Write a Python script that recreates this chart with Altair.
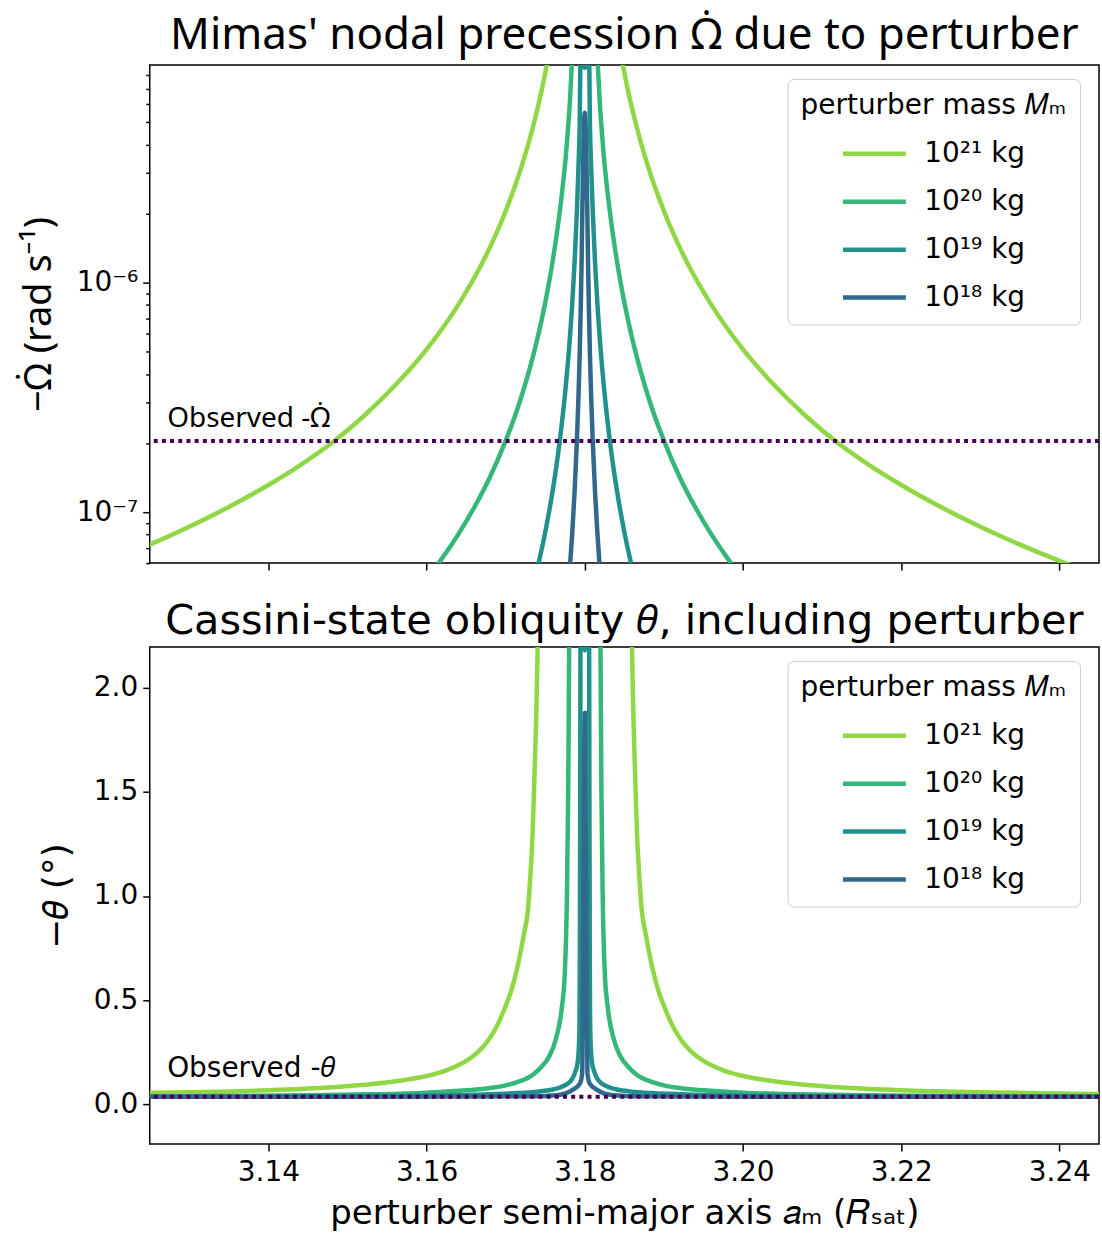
import altair as alt
import pandas as pd

SERIES = ["10²¹ kg", "10²⁰ kg", "10¹⁹ kg", "10¹⁸ kg"]
COLORS = ["#8fd744", "#35b779", "#21918c", "#31688e"]
X_TICKS = [3.14, 3.16, 3.18, 3.20, 3.22, 3.24]

# ---------------- top panel: -Omega_dot (rad/s) ----------------
TOP_X_21 = [3.120, 3.125, 3.130, 3.135, 3.140, 3.144, 3.148, 3.152, 3.156, 3.160, 3.164, 3.167, 3.170,
            3.172, 3.1735, 3.1745, 3.1752, 3.176, 3.177, 3.180, 3.183, 3.184, 3.1848, 3.1855, 3.1865,
            3.188, 3.190, 3.193, 3.196, 3.200, 3.204, 3.208, 3.212, 3.216, 3.220, 3.225, 3.230, 3.235,
            3.240, 3.245, 3.250]
TOP_Y_21 = [6.14e-8, 7.22e-8, 8.64e-8, 1.054e-7, 1.314e-7, 1.60e-7, 2.0e-7, 2.61e-7, 3.56e-7, 5.12e-7,
            8.0e-7, 1.21e-6, 2.05e-6, 3.2e-6, 4.85e-6, 6.77e-6, 8.9e-6, 1.28e-5, 2.28e-5, 1e-3,
            2.28e-5, 1.28e-5, 8.9e-6, 6.77e-6, 4.85e-6, 3.2e-6, 2.05e-6, 1.21e-6, 8.0e-7, 5.12e-7,
            3.56e-7, 2.61e-7, 2.0e-7, 1.60e-7, 1.314e-7, 1.054e-7, 8.64e-8, 7.22e-8, 6.14e-8, 5.28e-8,
            4.59e-8]

TOP_X_20 = [3.155, 3.160, 3.162, 3.164, 3.166, 3.168, 3.170, 3.1715, 3.173, 3.174, 3.175, 3.176, 3.1767,
            3.1772, 3.1776, 3.1779, 3.1781, 3.17825, 3.1785, 3.180, 3.1815, 3.18175, 3.1819, 3.1821,
            3.1824, 3.1828, 3.1833, 3.184, 3.185, 3.186, 3.187, 3.1885, 3.190, 3.192, 3.194, 3.196,
            3.198, 3.200, 3.205]
TOP_Y_20 = [3.28e-8, 5.12e-8, 6.32e-8, 8.0e-8, 1.045e-7, 1.42e-7, 2.05e-7, 2.83e-7, 4.18e-7, 5.69e-7,
            8.19e-7, 1.28e-6, 1.88e-6, 2.61e-6, 3.56e-6, 4.8e-6, 6.0e-6, 7.6e-6, 1.1e-5, 1e-3,
            1.1e-5, 7.6e-6, 6.0e-6, 4.8e-6, 3.56e-6, 2.61e-6, 1.88e-6, 1.28e-6, 8.19e-7, 5.69e-7,
            4.18e-7, 2.83e-7, 2.05e-7, 1.42e-7, 1.045e-7, 8.0e-8, 6.32e-8, 5.12e-8, 3.28e-8]

TOP_X_19 = [3.1725, 3.174, 3.175, 3.1758, 3.1764, 3.177, 3.1775, 3.178, 3.1784, 3.1787, 3.179, 3.1792,
            3.17935, 3.17945, 3.180, 3.18055, 3.18065, 3.1808, 3.181, 3.1813, 3.1816, 3.182, 3.1825,
            3.183, 3.1836, 3.1842, 3.185, 3.186, 3.1875]
TOP_Y_19 = [3.64e-8, 5.69e-8, 8.19e-8, 1.161e-7, 1.58e-7, 2.28e-7, 3.28e-7, 5.12e-7, 8.0e-7, 1.21e-6,
            2.05e-6, 3.2e-6, 4.85e-6, 9.0e-6, 8.6e-6, 9.0e-6, 4.85e-6, 3.2e-6, 2.05e-6, 1.21e-6,
            8.0e-7, 5.12e-7, 3.28e-7, 2.28e-7, 1.58e-7, 1.161e-7, 8.19e-8, 5.69e-8, 3.64e-8]

TOP_X_18 = [3.1776, 3.1781, 3.1784, 3.1787, 3.179, 3.1792, 3.17935, 3.1795, 3.1796, 3.17967, 3.180,
            3.18033, 3.1804, 3.1805, 3.18065, 3.1808, 3.181, 3.1813, 3.1816, 3.1819, 3.1824]
TOP_Y_18 = [3.56e-8, 5.67e-8, 8.0e-8, 1.21e-7, 2.05e-7, 3.2e-7, 4.85e-7, 8.19e-7, 1.28e-6, 1.88e-6,
            5.5e-6, 1.88e-6, 1.28e-6, 8.19e-7, 4.85e-7, 3.2e-7, 2.05e-7, 1.21e-7, 8.0e-8, 5.67e-8,
            3.56e-8]

TOP_OBS = [2.04e-7]
TOP_Y_DOMAIN = [6.0e-8, 8.87e-6]
TOP_Y_TICKS = [6e-8, 7e-8, 8e-8, 9e-8, 1e-7, 2e-7, 3e-7, 4e-7, 5e-7, 6e-7, 7e-7, 8e-7, 9e-7,
               1e-6, 2e-6, 3e-6, 4e-6, 5e-6, 6e-6, 7e-6, 8e-6]
TOP_NOTE = ["Observed -Ω\u0307"]
TOP_NOTE_X = [3.1272]
TOP_NOTE_Y = [2.34e-7]

# ---------------- bottom panel: -theta (deg) ----------------
BOT_X_21 = [3.110, 3.115, 3.120, 3.125, 3.132, 3.140, 3.147, 3.154, 3.157, 3.160, 3.1625, 3.1649, 3.1665,
            3.1676, 3.1688, 3.1699, 3.1707, 3.1714, 3.17232, 3.1728, 3.17312, 3.1734, 3.17362, 3.17385,
            3.17404, 3.1745, 3.180,
            3.1855, 3.18596, 3.18615, 3.18638, 3.1866, 3.18688, 3.1872, 3.18768, 3.1886, 3.1893, 3.1901,
            3.1912, 3.1924, 3.1935, 3.1951, 3.1975, 3.200, 3.203, 3.206, 3.213, 3.220, 3.228, 3.235,
            3.240, 3.245, 3.250]
BOT_Y_21 = [0.048, 0.049, 0.051, 0.054, 0.058, 0.066, 0.078, 0.100, 0.115, 0.135, 0.1625, 0.205, 0.251,
            0.297, 0.368, 0.463, 0.545, 0.645, 0.82, 0.93, 1.10, 1.30, 1.56, 1.85, 2.197, 3.0, 10.0,
            3.0, 2.197, 1.85, 1.56, 1.30, 1.10, 0.93, 0.82, 0.645, 0.545, 0.463, 0.368, 0.297, 0.251,
            0.205, 0.1625, 0.135, 0.115, 0.100, 0.078, 0.066, 0.058, 0.054, 0.051, 0.049, 0.048]

BOT_X_20 = [3.108, 3.115, 3.125, 3.135, 3.145, 3.153, 3.160, 3.165, 3.1675, 3.170, 3.1718, 3.1734, 3.1745,
            3.1755, 3.1763, 3.1771, 3.17747, 3.17774, 3.1779, 3.17802, 3.1782, 3.180, 3.1818, 3.18198,
            3.1821, 3.18226, 3.18253, 3.1829, 3.1837, 3.1845, 3.1855, 3.1866, 3.1882, 3.190, 3.1925,
            3.195, 3.200, 3.207, 3.215, 3.225, 3.235, 3.245, 3.252]
BOT_Y_20 = [0.036, 0.036, 0.037, 0.039, 0.042, 0.047, 0.055, 0.066, 0.075, 0.090, 0.110, 0.140, 0.178,
            0.230, 0.307, 0.465, 0.628, 1.0, 1.5, 2.197, 3.0, 10.0, 3.0, 2.197, 1.5, 1.0, 0.628, 0.465,
            0.307, 0.230, 0.178, 0.140, 0.110, 0.090, 0.075, 0.066, 0.055, 0.047, 0.042, 0.039, 0.037,
            0.036, 0.036]

BOT_X_19 = [3.110, 3.130, 3.145, 3.158, 3.166, 3.1715, 3.1752, 3.177, 3.1782, 3.17874, 3.1791, 3.17928,
            3.17934, 3.17938, 3.17942, 3.17948, 3.180, 3.18052, 3.18058, 3.18062, 3.18066, 3.18072,
            3.1809, 3.18126, 3.1818, 3.183, 3.1848, 3.1885, 3.194, 3.202, 3.215, 3.230, 3.250]
BOT_Y_19 = [0.035, 0.036, 0.037, 0.040, 0.045, 0.053, 0.065, 0.082, 0.110, 0.149, 0.200, 0.307, 0.450,
            0.800, 1.500, 2.600, 2.180, 2.600, 1.500, 0.800, 0.450, 0.307, 0.200, 0.149, 0.110, 0.082,
            0.065, 0.053, 0.045, 0.040, 0.037, 0.036, 0.035]

BOT_X_18 = [3.110, 3.150, 3.165, 3.173, 3.1765, 3.1784, 3.1794, 3.17967, 3.180, 3.18033, 3.1806, 3.1816,
            3.1835, 3.187, 3.195, 3.210, 3.250]
BOT_Y_18 = [0.035, 0.035, 0.036, 0.038, 0.043, 0.067, 0.100, 0.150, 1.880, 0.150, 0.100, 0.067, 0.043,
            0.038, 0.036, 0.035, 0.035]

BOT_OBS = [0.035]
BOT_Y_DOMAIN = [-0.192, 2.197]
BOT_Y_TICKS = [0.0, 0.5, 1.0, 1.5, 2.0]
BOT_NOTE = ["Observed -𝜃"]
BOT_NOTE_X = [3.1272]
BOT_NOTE_Y = [0.128]

X_DOMAIN = [3.125, 3.245]
FONT = "DejaVu Sans"
FONT2 = "Noto Sans"
LINE_W = 4.5


def frame(parts):
    rows = []
    for name, xs, ys in parts:
        for xv, yv in zip(xs, ys):
            rows.append({"series": name, "x": xv, "y": yv})
    return pd.DataFrame(rows)


top_df = frame([(SERIES[0], TOP_X_21, TOP_Y_21), (SERIES[1], TOP_X_20, TOP_Y_20),
                (SERIES[2], TOP_X_19, TOP_Y_19), (SERIES[3], TOP_X_18, TOP_Y_18)])
bot_df = frame([(SERIES[0], BOT_X_21, BOT_Y_21), (SERIES[1], BOT_X_20, BOT_Y_20),
                (SERIES[2], BOT_X_19, BOT_Y_19), (SERIES[3], BOT_X_18, BOT_Y_18)])

x_scale = alt.Scale(domain=X_DOMAIN, nice=False, zero=False)
color_scale = alt.Scale(domain=SERIES, range=COLORS)


def make_legend():
    return alt.Legend(
        title="perturber mass 𝑀ₘ", orient="none", legendX=639, legendY=14,
        symbolType="stroke", symbolSize=3969, symbolStrokeWidth=LINE_W, symbolOpacity=1,
        symbolOffset=40, labelOffset=16, padding=13, rowPadding=0, titlePadding=0,
        strokeColor="#cccccc", fillColor="white", cornerRadius=6, titleLimit=500, labelLimit=300,
        titleFontSize=28, labelFontSize=28, titleFont=FONT, labelFont=FONT,
        titleFontWeight="normal", titleColor="black", labelColor="black",
    )


# ---- top ----
top_x_axis = alt.Axis(values=X_TICKS, labels=False, title=None)
top_y_axis = alt.Axis(
    values=TOP_Y_TICKS,
    labelExpr="datum.value == 1e-6 ? '10⁻⁶' : (datum.value == 1e-7 ? '10⁻⁷' : '')",
    tickSize={"condition": {"test": "datum.value == 1e-6 || datum.value == 1e-7", "value": 7}, "value": 4},
    title="−Ω\u0307 (rad s⁻¹)", titleFont=FONT2, titleFontSize=38, labelOverlap=False,
)
top_y_scale = alt.Scale(type="log", domain=TOP_Y_DOMAIN, nice=False)

top_lines = alt.Chart(top_df).mark_line(clip=True, strokeWidth=LINE_W, interpolate="monotone").encode(
    x=alt.X("x:Q", scale=x_scale, axis=top_x_axis),
    y=alt.Y("y:Q", scale=top_y_scale, axis=top_y_axis),
    color=alt.Color("series:N", scale=color_scale, legend=make_legend()),
)
top_rule = alt.Chart(pd.DataFrame({"y": TOP_OBS})).mark_rule(
    strokeDash=[4, 4.2], strokeWidth=4, color="#440154").encode(
    y=alt.Y("y:Q", scale=top_y_scale, axis=top_y_axis))
top_text = alt.Chart(pd.DataFrame({"x": TOP_NOTE_X, "y": TOP_NOTE_Y, "t": TOP_NOTE})).mark_text(
    align="left", baseline="alphabetic", fontSize=28, font=FONT2, color="black").encode(
    x=alt.X("x:Q", scale=x_scale, axis=top_x_axis),
    y=alt.Y("y:Q", scale=top_y_scale, axis=top_y_axis), text="t:N")
top = alt.layer(top_lines, top_rule, top_text).properties(
    width=951, height=499,
    title=alt.Title("Mimas' nodal precession Ω\u0307 due to perturber", fontSize=44, font=FONT2,
                    fontWeight="normal", color="black", offset=3, anchor="middle"),
)

# ---- bottom ----
bot_x_axis = alt.Axis(values=X_TICKS, format=".2f", title="perturber semi-major axis 𝑎ₘ (𝑅ₛₐₜ)",
                      labelPadding=8, titlePadding=10)
bot_y_axis = alt.Axis(values=BOT_Y_TICKS, format=".1f", title="−𝜃 (°)", titleFontSize=36)
bot_y_scale = alt.Scale(domain=BOT_Y_DOMAIN, nice=False, zero=False)

bot_lines = alt.Chart(bot_df).mark_line(clip=True, strokeWidth=LINE_W, interpolate="monotone").encode(
    x=alt.X("x:Q", scale=x_scale, axis=bot_x_axis),
    y=alt.Y("y:Q", scale=bot_y_scale, axis=bot_y_axis),
    color=alt.Color("series:N", scale=color_scale, legend=make_legend()),
)
bot_rule = alt.Chart(pd.DataFrame({"y": BOT_OBS})).mark_rule(
    strokeDash=[4, 4.2], strokeWidth=4, color="#440154").encode(
    y=alt.Y("y:Q", scale=bot_y_scale, axis=bot_y_axis))
bot_text = alt.Chart(pd.DataFrame({"x": BOT_NOTE_X, "y": BOT_NOTE_Y, "t": BOT_NOTE})).mark_text(
    align="left", baseline="alphabetic", fontSize=28, font=FONT, color="black").encode(
    x=alt.X("x:Q", scale=x_scale, axis=bot_x_axis),
    y=alt.Y("y:Q", scale=bot_y_scale, axis=bot_y_axis), text="t:N")
bottom = alt.layer(bot_lines, bot_rule, bot_text).properties(
    width=951, height=498,
    title=alt.Title("Cassini-state obliquity 𝜃, including perturber", fontSize=41.5, font=FONT,
                    fontWeight="normal", color="black", offset=4, anchor="middle"),
)

chart = alt.vconcat(top, bottom, spacing=22).resolve_scale(color="independent").resolve_legend(
    color="independent"
).properties(
    padding={"left": 19, "top": 12, "right": 0, "bottom": 0},
    background="white",
).configure_view(stroke="black", strokeWidth=1.5).configure_axis(
    labelFont=FONT, titleFont=FONT, labelFontSize=28, titleFontSize=34, titleFontWeight="normal",
    labelColor="black", titleColor="black", tickColor="black", tickWidth=1.5, tickSize=7,
    domain=False, grid=False, labelPadding=5, titlePadding=18,
)

chart.save("out.html", embed_options={"renderer": "svg", "actions": False})
